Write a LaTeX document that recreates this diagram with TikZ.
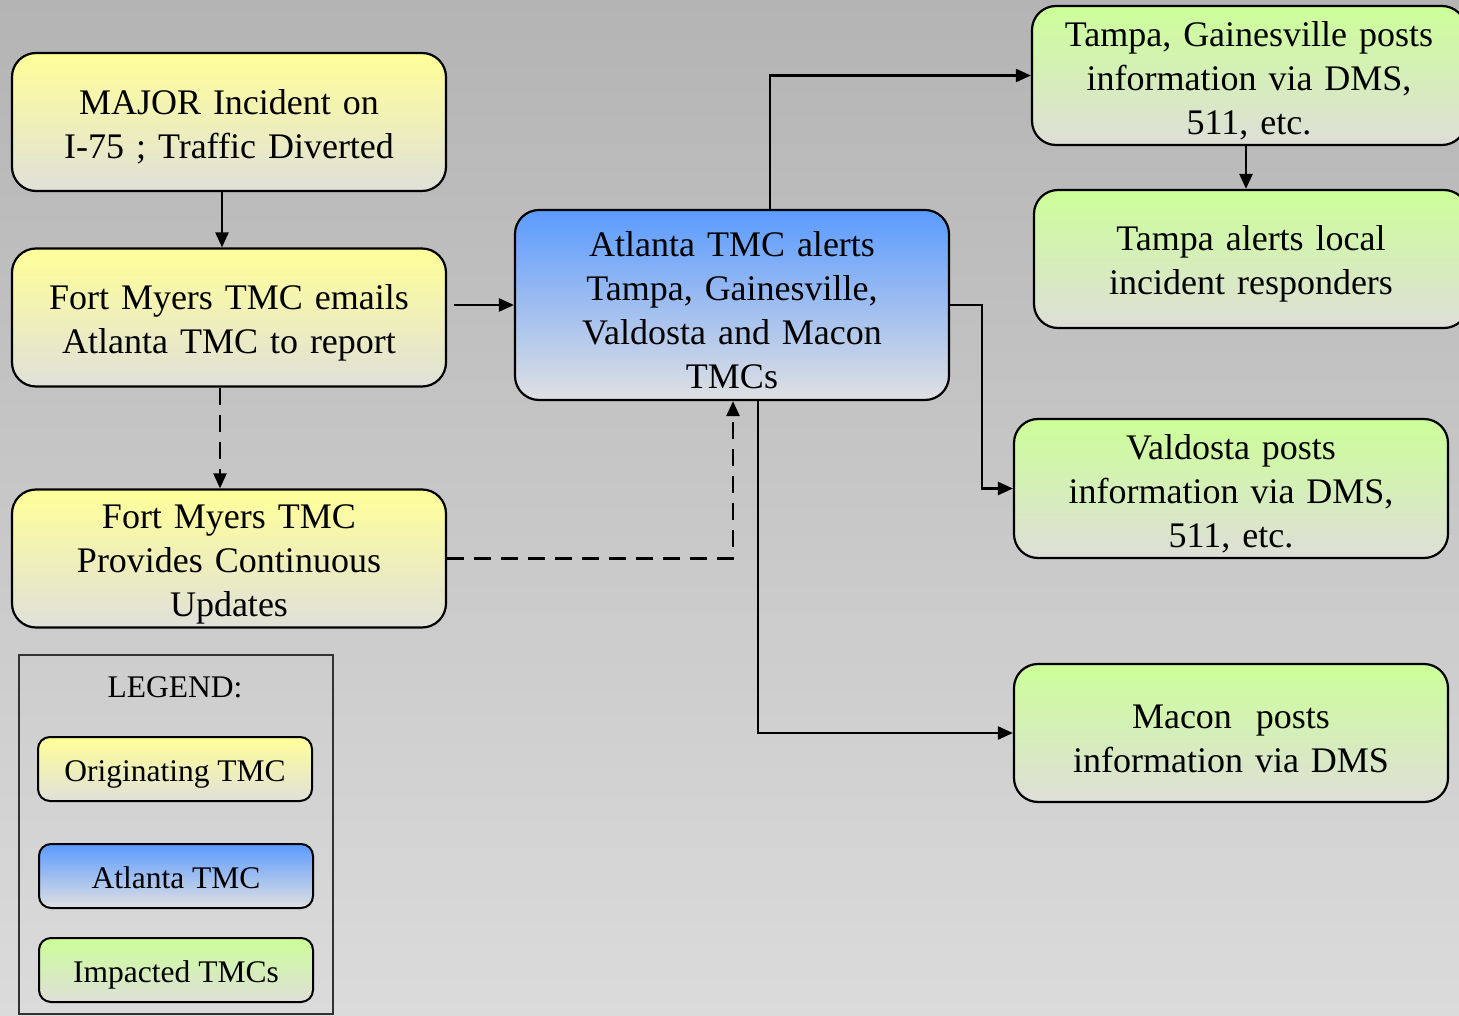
\documentclass[tikz,border=0pt]{standalone}
\usepackage{fontspec}
\setmainfont{Liberation Serif}
\usetikzlibrary{arrows.meta,shadings}
\definecolor{ytop}{HTML}{FFFF99}
\definecolor{ybot}{HTML}{E0E0DA}
\definecolor{btop}{HTML}{5B9BFF}
\definecolor{bbot}{HTML}{E0E0E2}
\definecolor{gtop}{HTML}{CCFF99}
\definecolor{gbot}{HTML}{DEDED8}
\tikzset{
  box/.style={draw=black, line width=2.2pt, rounded corners=24pt, align=center,
    inner sep=0pt, minimum width=434pt, minimum height=138pt, text width=420pt,
    font=\fontsize{36}{44}\selectfont, execute at begin node={\rule{0pt}{35pt}}},
  orig/.style={box, top color=ytop, bottom color=ybot},
  atlc/.style={box, top color=btop, bottom color=bbot},
  imp/.style={box, top color=gtop, bottom color=gbot},
  legitem/.style={draw=black, line width=2pt, rounded corners=12pt,
    inner sep=0pt, minimum width=274pt, minimum height=64pt,
    text height=32pt, text depth=7pt,
    font=\fontsize{31.5}{38}\selectfont},
  arr/.style={line width=2.4pt, -{Triangle[length=15pt,width=13pt]}},
  dsh/.style={arr, dash pattern=on 17pt off 10pt},
}
\begin{document}
\begin{tikzpicture}[x=1pt,y=-1pt]
\useasboundingbox (0,0) rectangle (1459,1016);
\shade[top color={rgb,255:red,180;green,180;blue,180}, bottom color={rgb,255:red,219;green,219;blue,219}] (0,0) rectangle (1459,1016);

\node[orig] (n1) at (229,122) {MAJOR Incident on\\I-75 ; Traffic Diverted};
\node[orig] (n2) at (229,317.5) {Fort Myers TMC emails\\Atlanta TMC to report};
\node[orig] (n3) at (229,558.5) {Fort Myers TMC\\Provides Continuous\\Updates};
\node[atlc, minimum height=190pt] (atl) at (732,305) {Atlanta TMC alerts\\Tampa, Gainesville,\\Valdosta and Macon\\TMCs};
\node[imp, minimum height=139pt] (t1) at (1249,75.5) {Tampa, Gainesville posts\\information via DMS,\\511, etc.};
\node[imp] (t2) at (1251,259) {Tampa alerts local\\incident responders};
\node[imp, minimum height=139pt] (val) at (1231,488.5) {Valdosta posts\\information via DMS,\\511, etc.};
\node[imp] (mac) at (1231,733) {Macon~ posts\\information via DMS};

\node[draw={rgb,255:red,50;green,50;blue,50}, line width=1.5pt, minimum width=314pt, minimum height=359pt, inner sep=0pt] (leg) at (176,834.5) {};
\node[font=\fontsize{31.5}{38}\selectfont] (legt) at (175,687) {LEGEND:};
\node[legitem, top color=ytop, bottom color=ybot] (l1) at (175,769) {Originating TMC};
\node[legitem, top color=btop, bottom color=bbot] (l2) at (176,876) {Atlanta TMC};
\node[legitem, top color=gtop, bottom color=gbot] (l3) at (176,970) {Impacted TMCs};

\draw[arr] ([xshift=-7pt]n1.south) -- ([xshift=-7pt]n2.north);
\draw[arr] ([xshift=7pt]n2.east |- atl.west) -- (atl.west);
\draw[dsh] ([xshift=-9pt]n2.south) -- ([xshift=-9pt]n3.north);
\draw[dsh] (n3.east) -| ([xshift=1pt]atl.south);
\draw[arr] ([xshift=38pt]atl.north) |- (t1.west);
\draw[arr] ([xshift=-3pt]t1.south) -- ([xshift=-3pt]t1.south |- t2.north);
\draw[arr] (atl.east) -- ++(32pt,0) |- (val.west);
\draw[arr] ([xshift=26pt]atl.south) |- (mac.west);
\end{tikzpicture}
\end{document}
